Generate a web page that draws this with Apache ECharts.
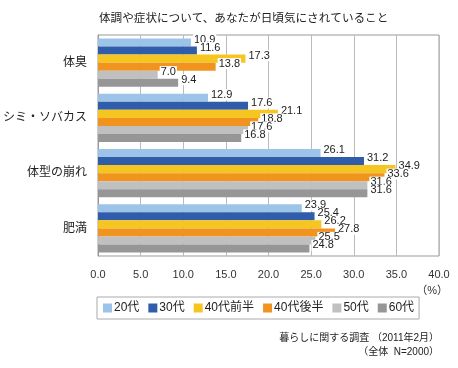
<!DOCTYPE html>
<html><head><meta charset="utf-8">
<script src="https://cdn.jsdelivr.net/npm/echarts@6/dist/echarts.min.js"></script>
<style>html,body{margin:0;padding:0;background:#fff}#c{width:458px;height:368px}</style>
</head><body><div id="c"></div>
<script>
const categories = ['体臭', 'シミ・ソバカス', '体型の崩れ', '肥満'];
const seriesNames = ['20代', '30代', '40代前半', '40代後半', '50代', '60代'];
const s20 = [10.9, 12.9, 26.1, 23.9];
const s30 = [11.6, 17.6, 31.2, 25.4];
const s40a = [17.3, 21.1, 34.9, 26.2];
const s40b = [13.8, 18.8, 33.6, 27.8];
const s50 = [7.0, 17.6, 31.6, 25.5];
const s60 = [9.4, 16.8, 31.6, 24.8];
const colors = ['#9CC3E8', '#2F5DAA', '#F5C521', '#F0941F', '#C0C0C0', '#969696'];
const seriesData = [s20, s30, s40a, s40b, s50, s60];

const FONT = '"Liberation Sans", "Noto Sans CJK JP", sans-serif';
const chart = echarts.init(document.getElementById('c'));
chart.setOption({
  animation: false,
  color: colors,
  textStyle: { fontFamily: FONT },
  title: {
    text: '体調や症状について、あなたが日頃気にされていること',
    left: 94, top: 8,
    textStyle: { fontSize: 11.6, fontWeight: 'normal', color: '#222', fontFamily: FONT }
  },
  grid: { left: 96, top: 35, width: 343, height: 221, show: true, borderColor: '#999', borderWidth: 1, containLabel: false },
  legend: {
    data: seriesNames,
    left: 97, top: 297, width: 318,
    icon: 'rect', itemWidth: 9, itemHeight: 9, itemGap: 9,
    borderColor: '#aaa', borderWidth: 1, padding: [5, 5, 5, 6],
    textStyle: { fontSize: 12, color: '#222', padding: [0, 0, 0, -3] }
  },
  xAxis: {
    type: 'value', min: 0, max: 40, interval: 5,
    axisLine: { show: false }, axisTick: { show: false },
    splitLine: { lineStyle: { color: '#bbb' } },
    axisLabel: { formatter: v => v.toFixed(1), fontSize: 11, color: '#333', margin: 13 }
  },
  yAxis: {
    type: 'category', data: categories, inverse: true,
    axisLine: { lineStyle: { color: '#999' } },
    axisTick: { inside: true, length: 3, lineStyle: { color: '#999' } },
    axisLabel: { fontSize: 12, color: '#222', margin: 11 }
  },
  series: seriesNames.map((n, i) => ({
    name: n, type: 'bar', data: seriesData[i],
    barGap: '0%', barCategoryGap: '13%',
    label: {
      show: true, position: 'right', distance: 2, offset: [0, -3],
      formatter: p => p.value.toFixed(1),
      fontSize: 11, color: '#222', backgroundColor: '#fff', padding: [0, 1]
    }
  })),
  graphic: [
    { type: 'text', right: 10, top: 285, style: { text: '（%）', fill: '#333', font: '11px ' + FONT } },
    { type: 'text', right: 19, top: 333, style: { text: '暮らしに関する調査 （2011年2月）', fill: '#222', font: '10px ' + FONT } },
    { type: 'text', right: 19, top: 347, style: { text: '（全体  N=2000）', fill: '#222', font: '10px ' + FONT } }
  ]
});
</script></body></html>
